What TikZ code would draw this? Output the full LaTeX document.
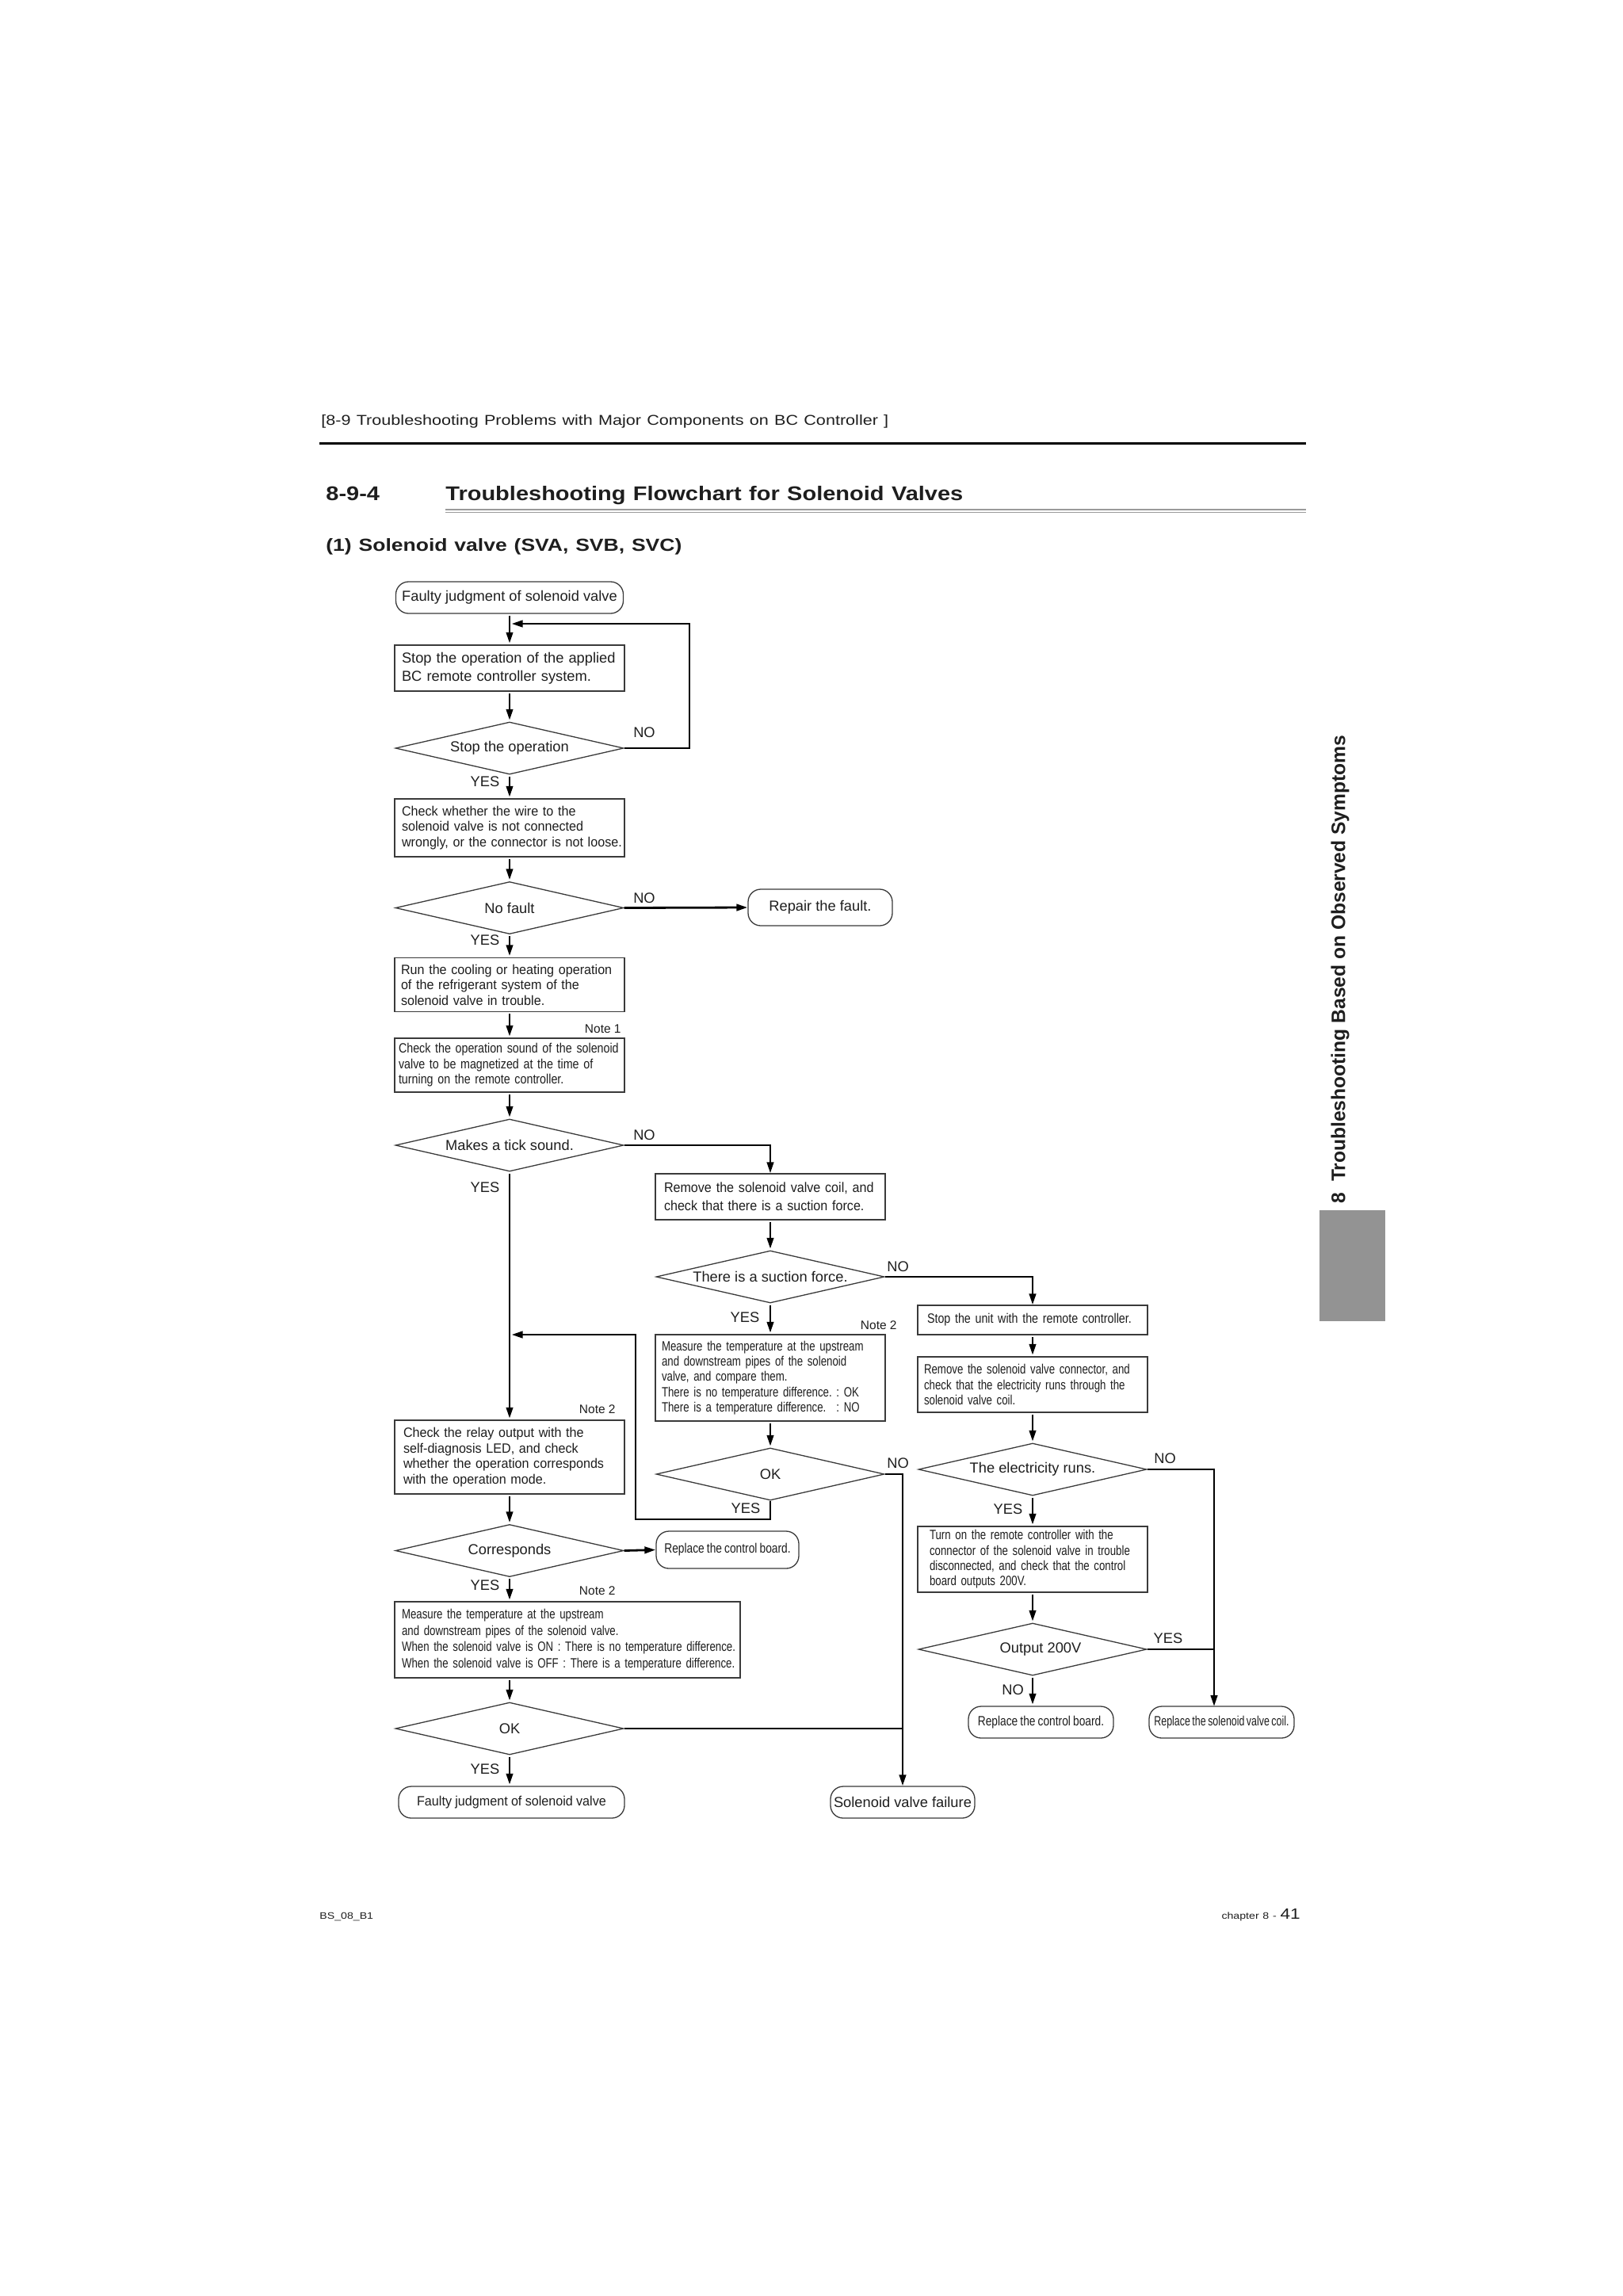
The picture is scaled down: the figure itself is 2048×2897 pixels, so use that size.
\documentclass[tikz,border=0pt]{standalone}
\usepackage{fontspec}
\setmainfont{Liberation Sans}
\newfontfamily\fN{Liberation Sans}
\newfontfamily\fC[FakeStretch=0.95,WordSpace=0.95]{Liberation Sans}
\newfontfamily\fR[FakeStretch=0.92,WordSpace=0.92]{Liberation Sans}
\newfontfamily\fD[FakeStretch=0.84,WordSpace=0.84]{Liberation Sans}
\newfontfamily\fE[FakeStretch=0.81,WordSpace=0.81]{Liberation Sans}
\newfontfamily\fG[FakeStretch=0.78,WordSpace=0.78]{Liberation Sans}
\newfontfamily\fF[FakeStretch=0.73,WordSpace=0.73]{Liberation Sans}
\newfontfamily\fH[FakeStretch=1.2,WordSpace=1.2]{Liberation Sans}
\newfontfamily\fT[FakeStretch=1.16,WordSpace=1.16]{Liberation Sans}
\usetikzlibrary{shapes.geometric,arrows.meta}
\definecolor{ink}{HTML}{1E1E1E}
\definecolor{bord}{HTML}{3A3A3A}
\definecolor{tabgray}{HTML}{939393}
\definecolor{rulegray}{HTML}{9A9A9A}
\tikzset{
  every node/.style={text=ink},
  boxs/.style={draw=bord, line width=0.65pt, rectangle, inner ysep=0pt, align=left},
  rbox/.style={draw=bord, line width=0.65pt, rectangle, rounded corners=8pt, inner sep=0pt, align=center},
  dia/.style={draw=bord, line width=0.65pt, diamond, aspect=4.36, inner sep=0pt,
    minimum width=144pt, minimum height=33pt, font=\fN\fontsize{9.15}{11}\selectfont},
  conn/.style={line width=1.4pt, draw=black},
  arr/.style={conn, -{Triangle[length=7pt,width=4.2pt]}},
  arrv/.style={arr, shorten <=1pt, shorten >=0.8pt},
  lbl/.style={inner sep=0pt, font=\fN\fontsize{9.15}{11}\selectfont},
  notel/.style={inner sep=0pt, anchor=east, font=\fN\fontsize{7.75}{9}\selectfont},
  bigf/.style={font=\fN\fontsize{9.15}{11.5}\selectfont},
}
\begin{document}
\frenchspacing
\begin{tikzpicture}[x=0.5pt,y=-0.5pt]
\fill[white] (0,0) rectangle (2048,2897);
\useasboundingbox (0,0) rectangle (2048,2897);

% ---------- page header ----------
\node[anchor=base west, inner sep=0pt, font=\fH\fontsize{9}{11}\selectfont] (hd) at (405,536)
  {[8-9 Troubleshooting Problems with Major Components on BC Controller ]};
\draw[line width=1.5pt, black] (403,559) -- (1648,559);
\node[anchor=base west, inner sep=0pt, font=\fT\bfseries\fontsize{12.5}{15}\selectfont] (secno) at (411,631) {8-9-4};
\node[anchor=base west, inner sep=0pt, font=\fT\bfseries\fontsize{12.5}{15}\selectfont] (title) at (562,631)
  {Troubleshooting Flowchart for Solenoid Valves};
\draw[rulegray, line width=0.6pt] (562,643) -- (1648,643);
\draw[rulegray, line width=0.6pt] (562,646.5) -- (1648,646.5);
\node[anchor=base west, inner sep=0pt, font=\fH\bfseries\fontsize{11.05}{14}\selectfont] (sub) at (411,695)
  {(1) Solenoid valve (SVA, SVB, SVC)};

% ---------- side tab ----------
\node[rotate=90, inner sep=0pt, font=\fN\bfseries\fontsize{12.3}{14}\selectfont] (side) at (1691,1223)
  {8\ \ Troubleshooting Based on Observed Symptoms};
\fill[tabgray] (1665,1527) rectangle (1748,1667);

% ---------- footer ----------
\node[anchor=base west, inner sep=0pt, font=\fH\fontsize{5.9}{7}\selectfont] (ft1) at (403,2421) {BS\_08\_B1};
\node[anchor=base east, inner sep=0pt] (ft2) at (1641,2421)
  {{\fH\fontsize{5.9}{7}\selectfont chapter 8 - }{\fH\fontsize{9.4}{11}\selectfont 41}};

% ---------- column A ----------
\node[rbox, minimum width=143.5pt, minimum height=20pt, bigf] (start) at (643,754)
  {Faulty judgment of solenoid valve};
\node[boxs, minimum width=145pt, minimum height=29pt, text width=136pt, inner xsep=4.5pt, bigf] (b2) at (643,843)
  {\mbox{Stop the operation of the applied}\\\mbox{BC remote controller system.}};
\node[dia] (d1) at (643,944) {Stop the operation};
\node[boxs, minimum width=145pt, minimum height=36.5pt, text width=136pt, inner xsep=4.5pt,
  font=\fC\fontsize{8.5}{9.75}\selectfont] (b3) at (643,1044.5)
  {\mbox{Check whether the wire to the}\\\mbox{solenoid valve is not connected}\\\mbox{wrongly, or the connector is not loose.}};
\node[dia] (d2) at (643,1145.5) {No fault};
\node[rbox, minimum width=91pt, minimum height=23pt, bigf] (repair) at (1035,1145) {Repair the fault.};
\node[boxs, minimum width=145pt, minimum height=34pt, text width=137pt, inner xsep=4pt,
  font=\fC\fontsize{8.5}{9.75}\selectfont] (b4) at (643,1242.5)
  {\mbox{Run the cooling or heating operation}\\\mbox{of the refrigerant system of the}\\\mbox{solenoid valve in trouble.}};
\node[notel] (n1) at (784,1298) {Note 1};
\node[boxs, minimum width=145pt, minimum height=34pt, text width=140pt, inner xsep=2.5pt,
  font=\fD\fontsize{8.5}{9.75}\selectfont] (b5) at (643,1344)
  {\mbox{Check the operation sound of the solenoid}\\\mbox{valve to be magnetized at the time of}\\\mbox{turning on the remote controller.}};
\node[dia] (d3) at (643,1445) {Makes a tick sound.};
\node[notel] (n2b) at (777,1778) {Note 2};
\node[boxs, minimum width=145pt, minimum height=46.5pt, text width=134pt, inner xsep=5.5pt,
  font=\fC\fontsize{8.5}{9.85}\selectfont] (relay) at (643,1838.5)
  {\mbox{Check the relay output with the}\\\mbox{self-diagnosis LED, and check}\\\mbox{whether the operation corresponds}\\\mbox{with the operation mode.}};
\node[dia] (d8) at (643,1956.5) {Corresponds};
\node[rbox, minimum width=90pt, minimum height=23.5pt, font=\fE\fontsize{8.5}{10}\selectfont] (rcb1) at (918,1955.5)
  {Replace the control board.};
\node[notel] (n2c) at (777,2007) {Note 2};
\node[boxs, minimum width=218pt, minimum height=48pt, text width=209pt, inner xsep=4.5pt,
  font=\fG\fontsize{8.5}{10.25}\selectfont] (measure2) at (716,2069)
  {\mbox{Measure the temperature at the upstream}\\\mbox{and downstream pipes of the solenoid valve.}\\\mbox{When the solenoid valve is ON : There is no temperature difference.}\\\mbox{When the solenoid valve is OFF : There is a temperature difference.}};
\node[dia] (d9) at (643,2181) {OK};
\node[rbox, minimum width=142.5pt, minimum height=20pt, font=\fC\fontsize{8.5}{10}\selectfont] (final) at (645.5,2274)
  {Faulty judgment of solenoid valve};

% ---------- column B ----------
\node[boxs, minimum width=145pt, minimum height=29pt, text width=134pt, inner xsep=5.5pt,
  font=\fR\fontsize{8.75}{11.5}\selectfont] (remove) at (972,1510)
  {\mbox{Remove the solenoid valve coil, and}\\\mbox{check that there is a suction force.}};
\node[dia] (d4) at (972,1611) {There is a suction force.};
\node[notel] (n2a) at (1132,1672) {Note 2};
\node[boxs, minimum width=145pt, minimum height=54.5pt, text width=137pt, inner xsep=4pt,
  font=\fG\fontsize{8.5}{9.65}\selectfont] (measure1) at (972,1738.5)
  {\mbox{Measure the temperature at the upstream}\\\mbox{and downstream pipes of the solenoid}\\\mbox{valve, and compare them.}\\\mbox{There is no temperature difference. : OK}\\\mbox{There is a temperature difference.\hspace{3.7pt} : NO}};
\node[dia] (d6) at (972,1860) {OK};
\node[rbox, minimum width=91pt, minimum height=20pt, bigf] (svf) at (1139,2274) {Solenoid valve failure};

% ---------- column C ----------
\node[boxs, minimum width=145pt, minimum height=18.5pt, text width=133pt, inner xsep=6pt,
  font=\fD\fontsize{8.5}{9.75}\selectfont] (stopunit) at (1303,1665.5)
  {\mbox{Stop the unit with the remote controller.}};
\node[boxs, minimum width=145pt, minimum height=35pt, text width=137pt, inner xsep=4pt,
  font=\fG\fontsize{8.5}{9.75}\selectfont] (connector) at (1303,1747)
  {\mbox{Remove the solenoid valve connector, and}\\\mbox{check that the electricity runs through the}\\\mbox{solenoid valve coil.}};
\node[dia] (d5) at (1303,1854) {The electricity runs.};
\node[boxs, minimum width=145pt, minimum height=41.5pt, text width=130pt, inner xsep=7.5pt,
  font=\fG\fontsize{8.5}{9.65}\selectfont] (turnon) at (1303,1967.5)
  {\mbox{Turn on the remote controller with the}\\\mbox{connector of the solenoid valve in trouble}\\\mbox{disconnected, and check that the control}\\\mbox{board outputs 200V.}};
\node[dia] (d7) at (1303,2081) {\hspace*{10pt}Output 200V};
\node[rbox, minimum width=91.5pt, minimum height=20pt, font=\fE\fontsize{8.5}{10}\selectfont] (rcb2) at (1313.5,2173)
  {Replace the control board.};
\node[rbox, minimum width=91.5pt, minimum height=20pt, font=\fF\fontsize{8.5}{10}\selectfont] (rcoil) at (1541.5,2173)
  {Replace the solenoid valve coil.};

% ---------- helper coordinates ----------
\coordinate (j1) at (645.5,787);
\coordinate (k1) at (870,787);
\coordinate (j2) at (645.5,1684);
\coordinate (k2) at (802,1917);
\coordinate (k3) at (802,1684);
\coordinate (e1) at (1532,2153);

% ---------- connectors ----------
\draw[arrv] (start.south) -- (b2.north);
\draw[arr] (d1.east) -| (k1) -- (j1);
\draw[arrv] (b2.south) -- (d1.north);
\draw[arrv] (d1.south) -- (b3.north);
\draw[arrv] (b3.south) -- (d2.north);
\draw[arr] (d2.east) -- (repair.west);
\draw[arrv] (d2.south) -- (b4.north);
\draw[arrv] (b4.south) -- (b5.north);
\draw[arrv] (b5.south) -- (d3.north);
\draw[arr] (d3.east) -| (remove.north);
\draw[arrv] (d3.south) -- (relay.north);
\draw[arrv] (remove.south) -- (d4.north);
\draw[arrv] (d4.south) -- (measure1.north);
\draw[arr] (d4.east) -| (stopunit.north);
\draw[arrv] (measure1.south) -- (d6.north);
\draw[arr] (d6.south) |- (k2) -- (k3) -- (j2);
\draw[arr] (d6.east) -| (svf.north);
\draw[arrv] (stopunit.south) -- (connector.north);
\draw[arrv] (connector.south) -- (d5.north);
\draw[arrv] (d5.south) -- (turnon.north);
\draw[arrv] (turnon.south) -- (d7.north);
\draw[arrv] (d7.south) -- (d7.south |- rcb2.north);
\draw[arr] (d5.east) -| (e1);
\draw[conn] (d7.east) -- (d7.east -| e1);
\draw[arrv] (relay.south) -- (d8.north);
\draw[arr] (d8.east) -- (rcb1.west);
\draw[arrv] (d8.south) -- (d8.south |- measure2.north);
\draw[arrv] (measure2.south -| d9.north) -- (d9.north);
\draw[conn] (d9.east) -- (d9.east -| svf.north);
\draw[arrv] (d9.south) -- (d9.south |- final.north);

% ---------- labels ----------
\node[lbl] (l1n) at (813,924) {NO};
\node[lbl] (l1y) at (612,986) {YES};
\node[lbl] (l2n) at (813,1133) {NO};
\node[lbl] (l2y) at (612,1186) {YES};
\node[lbl] (l3n) at (813,1432) {NO};
\node[lbl] (l3y) at (612,1498) {YES};
\node[lbl] (l4n) at (1133,1598) {NO};
\node[lbl] (l4y) at (940,1662) {YES};
\node[lbl] (l6n) at (1133,1846) {NO};
\node[lbl] (l6y) at (941,1903) {YES};
\node[lbl] (l5n) at (1470,1840) {NO};
\node[lbl] (l5y) at (1272,1904) {YES};
\node[lbl] (l7y) at (1474,2067) {YES};
\node[lbl] (l7n) at (1278,2132) {NO};
\node[lbl] (l8y) at (612,2000) {YES};
\node[lbl] (l9y) at (612,2232) {YES};
\end{tikzpicture}
\end{document}
